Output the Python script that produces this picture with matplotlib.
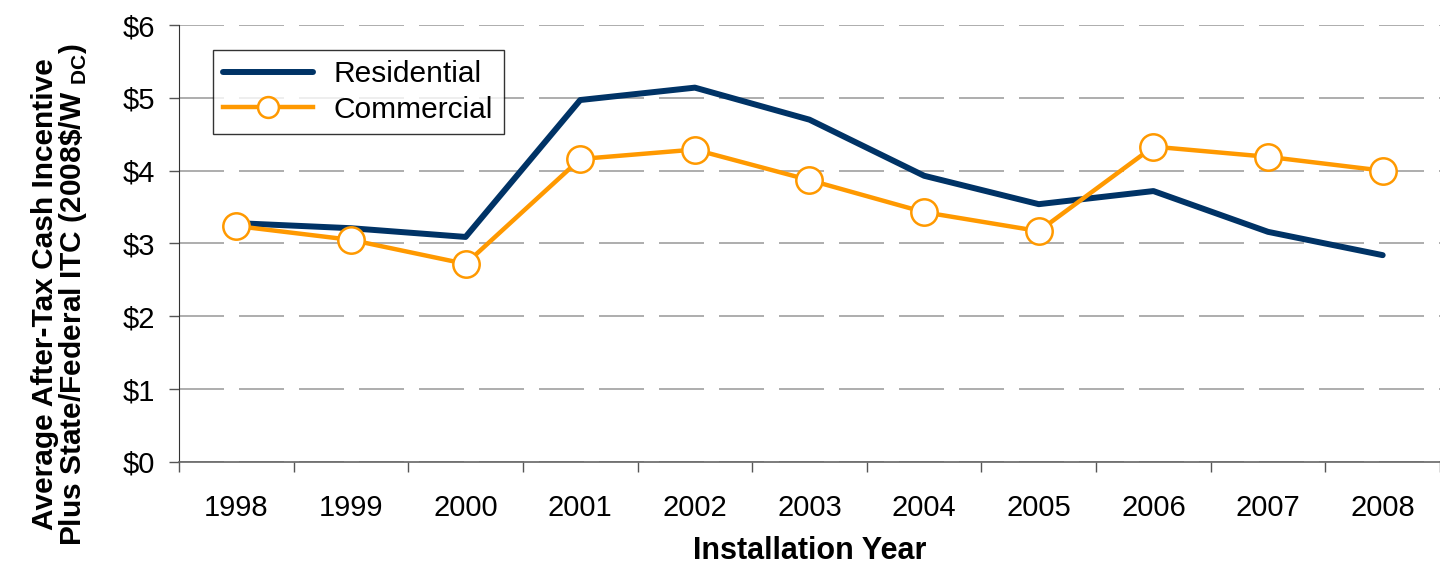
import matplotlib.pyplot as plt
from matplotlib.ticker import FixedLocator

plt.rcParams['font.family'] = ['Liberation Sans', 'DejaVu Sans']
plt.rcParams['mathtext.fontset'] = 'custom'
plt.rcParams['mathtext.bf'] = 'Liberation Sans:bold'
plt.rcParams['mathtext.rm'] = 'Liberation Sans:bold'

# ====================== DADOS ======================
years = ['1998', '1999', '2000', '2001', '2002', '2003',
         '2004', '2005', '2006', '2007', '2008']
residential = [3.28, 3.21, 3.09, 4.97, 5.14, 4.70, 3.93, 3.54, 3.72, 3.16, 2.84]
commercial = [3.24, 3.05, 2.72, 4.16, 4.29, 3.87, 3.43, 3.17, 4.33, 4.19, 4.00]
y_ticks = [0, 1, 2, 3, 4, 5, 6]

navy = '#003366'
orange = '#FF9900'

fig = plt.figure(figsize=(14.4, 5.67), dpi=100)
ax = fig.add_axes([0.1243, 0.1852, 0.8757, 0.7707])

x = list(range(len(years)))
ax.plot(x, residential, color=navy, linewidth=4.3, label='Residential',
        solid_capstyle='round', zorder=3)
ax.plot(x, commercial, color=orange, linewidth=3.2, marker='o', markersize=19,
        markerfacecolor='white', markeredgecolor=orange, markeredgewidth=1.8,
        label='Commercial', zorder=4)

ax.set_xlim(-0.5, len(years) - 0.5)
ax.set_ylim(0, 6)
ax.set_yticks(y_ticks)
ax.set_yticklabels(['${}'.format(v) for v in y_ticks])
ax.set_xticks(x)
ax.set_xticklabels(years)
ax.xaxis.set_minor_locator(FixedLocator([i - 0.5 for i in range(len(years) + 1)]))
ax.tick_params(axis='x', which='major', length=0, pad=23, labelsize=21)
ax.tick_params(axis='x', which='minor', length=7, width=1, color='#555555', direction='out')
ax.tick_params(axis='y', length=7, width=1, color='#555555', pad=10, labelsize=21)

# grade tracejada
ax.yaxis.grid(True, color='#A0A0A0', linewidth=1.2, linestyle=(0, (27, 9)))
ax.set_axisbelow(True)

for s in ['top', 'right']:
    ax.spines[s].set_visible(False)
ax.spines['left'].set_color('#333333')
ax.spines['bottom'].set_color('#666666')
ax.spines['bottom'].set_linewidth(1.2)

ax.set_xlabel('Installation Year', fontsize=22, fontweight='bold', labelpad=10)
ax.set_ylabel('Average After-Tax Cash Incentive\n'
              r'Plus State/Federal ITC (2008\$/W $_{\mathbf{DC}}$)',
              fontsize=21.5, fontweight='bold', linespacing=0.9)
ax.yaxis.set_label_coords(-0.0713, 0.384)

leg = ax.legend(loc='upper left', bbox_to_anchor=(0.027, 0.943), fontsize=21.5,
                frameon=True, fancybox=False, edgecolor='black', handlelength=3.0,
                borderpad=0.35, labelspacing=0.25, handletextpad=0.7,
                borderaxespad=0)
leg.get_frame().set_linewidth(1.0)
for h in leg.legend_handles:
    if h.get_marker() == 'o':
        h.set_markersize(15)

fig.savefig('out.png', dpi=100)
